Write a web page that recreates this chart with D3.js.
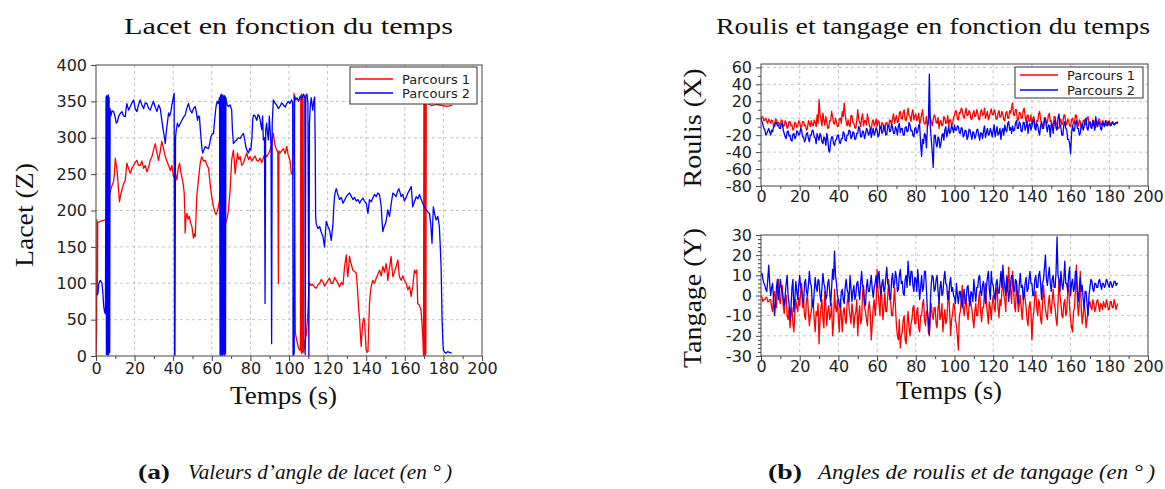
<!DOCTYPE html>
<html><head><meta charset="utf-8">
<script src="https://cdn.jsdelivr.net/npm/d3@7"></script>
<style>body{margin:0;background:#fff} svg{display:block}</style>
</head><body><svg id="c" width="1165" height="489"></svg>
<script>
// ---------------- DATA ----------------
const seriesNames = ["Parcours 1", "Parcours 2"];
const xTicks = [0,20,40,60,80,100,120,140,160,180,200];
const yawTicks = [0,50,100,150,200,250,300,350,400];
const rollTicks = [-80,-60,-40,-20,0,20,40,60];
const pitchTicks = [-30,-20,-10,0,10,20,30];

// Yaw (lacet), [time s, angle deg]
const yawParcours1 = [[0,0],[0.3,36],[0.5,187],[0.7,84],[0.9,183],[2,185],[3.5,186],[5,187],[6,200],[7,222],[7.4,226],[8,232],[9.1,240],[9.6,252],[10,272],[10.5,262],[10.9,256],[11.5,235],[12.2,212],[12.8,222],[13.4,228],[14.2,236],[15.2,242],[15.6,255],[16,265],[16.8,258],[17.8,251],[18.6,258],[19.5,262],[20.3,266],[21.2,269],[22,262],[22.9,262],[23.8,268],[24.7,258],[25.5,262],[26.4,253],[27.3,260],[28.1,269],[29,274],[29.8,283],[30.7,292],[31.5,280],[32.4,269],[33.2,280],[34.1,295],[35,285],[35.9,274],[36.7,268],[37.6,262],[38.5,255],[39.3,262],[40.2,246],[41,252],[41.9,242],[42.6,258],[43.3,265],[44,252],[44.5,246],[45.1,238],[45.7,224],[46,200],[46.2,169],[46.6,190],[47.1,196],[47.7,188],[48.4,192],[49,183],[49.7,178],[50.1,170],[50.5,162],[51,168],[51.4,164],[51.8,190],[52.2,219],[52.7,232],[53.1,242],[53.6,255],[54,265],[54.4,270],[54.8,274],[55.7,268],[56.6,269],[57.5,262],[58.3,258],[59,240],[59.5,228],[60.2,215],[60.9,205],[61.6,198],[62.2,194],[62.8,198],[63.4,205],[63.9,212],[64.3,219],[65,215],[66,190],[66.9,178],[67.4,184],[67.8,187],[68.6,200],[69.5,228],[69.9,250],[70.3,269],[70.7,276],[71.2,283],[71.6,270],[72.1,251],[72.7,265],[73.3,279],[74,270],[74.7,274],[75.5,262],[76.4,265],[77.2,272],[78.1,279],[79,270],[79.8,274],[80.7,268],[81.6,272],[82.4,275],[83.3,269],[84.2,268],[85,272],[85.9,266],[86.7,272],[87.5,278],[88.4,274],[89.3,278],[90.2,283],[91,292],[91.9,306],[92.7,290],[93.6,283],[94.2,280],[94.5,100],[94.8,282],[95.3,279],[96.2,282],[97.1,285],[98,278],[98.8,288],[99.6,276],[100.5,269],[101.2,251],[101.9,249],[102.3,300],[102.6,361],[103,200],[103.3,31],[104,22],[104.8,12],[105.5,8],[105.9,10],[106.1,358],[106.3,5],[106.5,360],[106.7,3],[106.9,358],[107.1,6],[107.3,359],[107.6,5],[108.3,20],[109,30],[109.8,60],[110.3,95],[110.7,100],[111.5,97],[112.4,98],[113.2,95],[114.1,93],[115,98],[115.9,100],[116.7,105],[117.6,102],[118.4,96],[119.3,100],[120.2,104],[121,107],[121.9,100],[122.8,100],[123.6,108],[124.5,104],[125.4,100],[126.2,95],[127.1,101],[128,98],[128.8,123],[129.7,139],[130.1,120],[130.5,109],[131,125],[131.4,137],[131.8,130],[132.2,127],[132.7,122],[133.1,118],[134,116],[134.8,114],[135.3,100],[135.7,82],[136.2,62],[136.6,49],[137,30],[137.4,13],[137.9,35],[138.3,47],[138.7,52],[139.1,49],[139.6,25],[140,8],[140.5,5],[140.9,6],[141.3,40],[141.7,72],[142.2,88],[142.6,95],[143,100],[143.4,104],[144.3,100],[145.2,107],[146,112],[146.9,118],[147.8,110],[148.6,123],[149.5,115],[150.3,127],[150.8,118],[151.2,104],[152,120],[152.9,137],[153.4,120],[153.8,109],[154.7,116],[155.5,123],[156,128],[156.4,132],[156.8,120],[157.2,109],[158.1,104],[159,110],[159.8,104],[160.7,100],[161.6,91],[162.4,96],[163.3,82],[163.7,90],[164.1,95],[164.6,108],[165,118],[165.6,114],[166.2,118],[166.7,72],[167.5,70],[168.4,63],[168.9,45],[169.3,27],[169.7,0],[169.9,355],[170.1,2],[170.3,358],[170.5,1],[170.7,356],[170.9,3],[171.1,357],[171.4,348],[172.5,346],[174,344],[175,345],[176,346],[178,345],[180,344],[182,343],[183.5,344],[184.6,345]];

const yawParcours2 = [[0.3,84],[1,86],[1.5,100],[2.2,104],[3.1,100],[3.6,85],[4,68],[4.5,60],[4.9,58],[5.2,356],[5.4,2],[5.6,358],[5.8,3],[6,357],[6.2,1],[6.4,359],[6.6,2],[6.8,355],[7.1,5],[7.3,340],[7.7,330],[8.3,337],[9.1,336],[9.8,330],[10.5,320],[11.1,322],[11.7,329],[12.5,333],[13.4,336],[14.3,330],[15.2,329],[15.6,340],[16,347],[16.9,338],[17.8,343],[18.6,348],[19.5,352],[20.3,340],[21.2,336],[22,345],[22.9,352],[23.8,345],[24.7,340],[25.5,348],[26.4,347],[27.3,340],[28.1,338],[29,345],[29.8,350],[30.7,342],[31.6,336],[32.5,345],[33.3,340],[34.1,324],[34.6,315],[35,308],[35.5,300],[35.9,292],[36.3,305],[36.7,315],[37.2,325],[37.6,334],[38.2,330],[38.8,336],[39.3,345],[39.8,352],[40.5,361],[40.7,3],[40.9,1],[41.2,300],[41.6,311],[42.2,320],[42.8,315],[43.7,320],[44.5,324],[45.3,328],[46.2,331],[47,340],[47.9,347],[48.8,338],[49.7,334],[50.5,340],[51.4,343],[52,335],[52.6,324],[53.1,330],[53.6,329],[54.1,310],[54.5,297],[54.9,285],[55.3,279],[56,284],[56.6,288],[57.5,286],[58.3,285],[58.9,292],[59.5,301],[60.2,305],[60.9,306],[61.5,325],[62.2,343],[62.8,350],[63.4,347],[64,355],[64.3,2],[64.5,358],[64.7,1],[64.9,360],[65.1,3],[65.3,357],[65.5,0],[65.7,359],[65.9,2],[66.1,356],[66.3,4],[66.5,358],[66.7,1],[66.9,357],[67.1,3],[67.3,355],[67.6,350],[68,345],[68.6,343],[69.5,345],[70.3,338],[70.7,310],[71.2,292],[72,295],[72.9,297],[73.8,300],[74.7,299],[75.5,303],[76.4,306],[77,298],[77.6,288],[78.3,282],[79,279],[79.6,285],[80.2,283],[80.8,300],[81.2,325],[81.6,331],[82.4,330],[83.3,324],[84,332],[84.7,329],[85.3,320],[85.9,311],[86.3,330],[86.7,297],[87.3,300],[87.6,72],[87.9,310],[88.4,320],[88.9,305],[89.3,297],[89.8,330],[90.2,311],[90.7,290],[91,17],[91.3,320],[91.9,352],[92.7,348],[93.6,345],[94.5,340],[95.3,343],[96.2,348],[97.1,345],[98,342],[98.8,347],[99.6,350],[100.5,347],[101.3,352],[101.9,348],[102.1,1],[102.7,3],[102.9,358],[103.5,352],[104.2,355],[105,350],[105.8,357],[106.5,354],[107.2,358],[107.6,360],[108.2,355],[108.4,2],[108.7,358],[109.3,360],[109.8,348],[110.3,0],[110.6,320],[111,342],[111.5,355],[112.3,338],[112.8,350],[113.3,356],[113.6,280],[113.8,192],[114.1,182],[115,175],[115.9,178],[116.7,170],[117.6,164],[118.4,150],[118.9,170],[119.3,185],[120.2,178],[121,173],[121.9,159],[122.3,170],[122.8,182],[123.2,205],[123.6,219],[124,226],[124.5,230],[125.3,222],[126.2,215],[127.1,218],[128,210],[128.8,214],[129.7,219],[130.5,222],[131.4,224],[132.2,220],[133.1,215],[134,218],[134.8,213],[135.7,215],[136.6,210],[137.4,214],[138.3,217],[139.1,213],[140,210],[140.9,196],[141.3,205],[141.7,215],[142.6,212],[143.4,217],[144.3,222],[145.2,219],[146,224],[146.9,222],[147.8,205],[148.2,185],[148.6,171],[149.3,178],[150,182],[150.6,190],[151.2,201],[151.6,196],[152.1,192],[153,210],[153.8,224],[154.6,222],[155.5,219],[156.2,226],[156.9,230],[157.5,225],[158.1,219],[159,222],[159.8,213],[160.7,218],[161.6,224],[162.4,228],[163.3,233],[163.7,220],[164.1,205],[165,212],[165.9,219],[166.8,216],[167.6,222],[168.5,215],[169.3,210],[170.2,205],[171,201],[171.9,198],[172.8,196],[173.5,180],[174.1,155],[174.5,185],[174.8,205],[175.5,195],[176.2,187],[177.1,192],[177.5,185],[177.9,178],[178.4,150],[178.8,123],[179.3,54],[179.7,20],[180,8],[180.7,5],[181.4,4],[182.2,6],[183.1,5],[184.3,4]];

// Roll / pitch read every half second, t = 0 .. 184.5 s
const sampleStep = 0.5;
const rollParcours1 = [
0,2,1,-3,-2,0,-4,-6,-1,-3, -6,-2,-3,-9,-8,-1,-2,-6,-5,-8,
-7,-2,-3,-10,-9,-3,-5,-12,-10,-4, -4,-9,-8,-14,-12,-5,-6,-11,-9,-3,
-5,-11,-10,-4,-4,-9,-8,-14,-12,-3, -6,-10,-3,-8,-9,-2,-5,-10,4,-6,
22,5,-2,-9,6,-3,-8,2,-4,-12, -11,-3,-3,8,2,-6,-7,0,-5,-10,
-9,-1,0,-6,8,2,18,5,-4,-9, -2,-8,-10,3,3,-5,-6,-11,-12,-2,
10,-1,-5,-10,0,5,-9,-3,-3,-8, 5,-2,-8,-12,-14,-4,-2,-9,-6,-1,
-10,-3,-4,-12,-12,-5,-7,-13,-15,-6, -5,-10,-9,-2,-3,-8,0,5,-6,-1,
3,-5,-4,6,8,0,-1,7,10,-2, -3,4,12,3,2,-4,6,10,-2,3,
5,-3,0,6,-8,-2,4,10,-3,-7, -6,2,-10,-4,8,0,-4,-9,-1,4,
2,-5,-6,1,-12,-4,-3,-9,-8,2, 0,-6,-5,3,-10,-2,-2,-8,-7,1,
3,9,8,-1,-2,7,6,12,10,2, 0,6,12,3,4,9,7,-1,-1,5,
9,2,3,10,6,-1,-2,8,10,3, 5,12,0,4,8,-2,2,7,11,4,
4,10,7,-1,-1,6,9,1,2,8, 5,-2,-3,6,8,0,0,9,6,12,
18,4,3,10,10,-3,-2,7,6,0, 0,9,12,2,-5,3,4,-4,-3,4,
-8,0,2,-6,-12,-3,-4,5,8,-2, -6,-12,-10,1,0,-7,-5,3,6,-4,
-3,-9,-9,2,2,-6,-7,-12,-12,-3, -1,-8,-6,3,4,-5,-8,-1,-3,-9,
-10,-2,0,-7,-6,4,3,-5,-9,-2, -4,-11,-12,-3,-2,-8,-7,0,2,-6,
-5,-10,-9,-2,-3,-8,-11,-4,-6,-1, -2,-7,-8,-3,-4,-9,-7,-3,-5,-8,
-3,-7,-8,-4,-5,-7,-6,-5,-5,-4];
const rollParcours2 = [
0,-4,-8,-12,-14,-20,-18,-15,-12,-16, -20,-14,-16,-10,-10,-5,-5,-9,-8,-12,
-12,-7,-6,-14,-18,-22,-24,-16,-15,-21, -20,-26,-27,-19,-18,-24,-22,-15,-16,-20,
-19,-12,-14,-22,-22,-28,-25,-18,-17,-24, -28,-20,-20,-14,-15,-22,-23,-30,-18,-22,
-26,-18,-21,-28,-30,-22,-24,-32,-18,-25, -38,-40,-28,-22,-22,-30,-32,-26,-25,-20,
-20,-28,-30,-24,-24,-16,-18,-26,-27,-20, -20,-14,-15,-24,-22,-16,-17,-25,-24,-18,
-18,-10,-12,-22,-22,-15,-16,-24,-20,-12, -14,-20,-18,-12,-23,-17,-12,-20,-17,-11,
-14,-22,-20,-10,-10,-18,-16,-8,-12,-20, -19,-10,-8,-16,-15,-7,-11,-18,-18,-10,
-13,-20,-9,-6,-17,-12,-12,-20,-20,-11, -10,-16,-15,-5,-8,-15,-14,-20,-22,-12,
-11,-18,-16,-8,-9,-30,-45,-25,-30,-18, -20,-35,-10,-5,52,-10,-25,-40,-58,-20,
-20,-30,-34,-22,-24,-35,-30,-20,-18,-26, -14,-10,-22,-16,-10,-18,-16,-8,-12,-17,
-8,-14,-14,-9,-10,-17,-18,-11,-12,-22, -20,-14,-15,-25,-22,-13,-14,-20,-25,-16,
-17,-24,-21,-14,-13,-20,-26,-17,-18,-24, -15,-9,-23,-17,-12,-20,-19,-12,-16,-22,
-14,-8,-22,-16,-10,-20,-18,-12,-25,-15, -12,-20,-8,-14,-16,-6,-4,-14,-11,-18,
-9,-15,-14,-6,-3,-12,-12,-4,-7,-16, -15,-5,-5,-14,-10,-3,-18,-8,-6,-14,
-10,-3,-2,-12,-14,-6,-8,-16,-20,-9, -4,-12,-12,-2,0,-10,-16,-8,-9,-22,
-6,-10,-18,-6,-2,-12,-14,0,5,-8, -11,-20,-20,-8,-4,-12,-13,-25,-25,-30,
-42,-18,-8,-15,-15,-5,-3,-12,-12,-20, -18,-8,-6,-14,-10,-2,0,-12,-14,-6,
-4,-11,-12,-3,-8,-14,2,-7,-10,-4, -6,-12,-14,-5,-7,-10,-3,-8,-9,-4,
-5,-9,-8,-5,-6,-8,-7,-5,-6,-5];
const pitchParcours1 = [
0,-1,-3,-2,-2,-1,-1,-3,-3,-2, -2,-6,-8,0,2,-4,-6,4,8,-2,
-4,2,5,-5,-9,-2,0,-10,-12,-6, -16,-10,-6,-14,-18,-8,-2,-6,-8,-1,
-5,2,6,-6,-3,-10,-12,-2,0,-8, -15,-10,-8,-2,-4,-12,-18,-8,-10,-4,
-24,-12,-6,-2,-12,-16,2,-5,-15,-8, -5,-12,-10,-4,-20,-14,3,-6,-8,-2,
-12,-18,-2,-10,-18,-8,-6,-12,-14,-4, 0,-6,-10,-14,-4,-8,-16,-10,-8,-2,
-20,-10,-5,-14,-12,2,5,-6,-8,-12, -15,-6,-3,-10,-22,-14,-6,-2,-10,-4,
13,2,-4,-10,5,-2,-12,-6,2,-8, -8,0,8,-2,-3,-10,-10,-4,4,-6,
-15,-20,-22,-12,-26,-20,-18,-12,-10,-22, -24,-14,-8,-16,-20,-14,-12,-6,-5,-14,
-14,-8,-6,-16,-18,-10,-10,-4,-2,-12, -15,-8,-8,-18,-20,-10,-4,-10,-12,-6,
-6,-14,-16,-6,-3,-12,-10,-4,-18,-12, -7,-14,-12,-4,2,-8,-20,-12,-9,-4,
-5,-12,-15,-20,-27,-10,-8,-2,5,-6, -10,-4,-2,-8,-12,-6,0,-4,-7,-12,
-16,-8,-4,-10,-10,-2,2,-8,-13,-6, -6,2,6,-4,-9,-14,-3,-6,-12,-4,
0,-6,-8,2,4,-6,-11,-2,-5,2, 8,0,-2,-8,10,2,14,4,3,-4,
12,4,-5,-8,6,0,-8,-4,0,-6, -12,-4,4,-2,-6,-12,-15,-6,-3,-8,
-22,-12,-8,0,2,-6,-10,-2,-4,-12, -14,-4,5,-2,-7,-10,-12,-4,0,-6,
-9,-2,3,-4,-6,-12,-15,-4,8,0, -4,-10,-11,-4,-2,-10,-8,2,5,-6,
-12,-16,-18,-8,-6,4,15,-2,-10,-4, 12,-6,-14,-10,-4,-8,-16,-12,-8,-4,
-3,-6,-7,-2,-4,-8,-6,-3,-2,-5, -8,-4,-5,-7,-3,-5,-6,-2,-4,-7,
-7,-3,-3,-6,-6,-2,-4,-7,-5,-4];
const pitchParcours2 = [
10,11,8,6,5,3,2,8,15,6, 0,4,6,-2,-10,-4,4,8,-2,2,
8,4,2,-2,-5,0,6,10,0,-4, -12,-6,4,8,-8,-2,7,2,-2,5,
10,4,3,-2,-4,6,8,2,0,5, 12,6,5,-4,-6,2,9,4,2,8,
7,0,-3,4,11,6,4,-2,0,6, 8,2,-5,4,13,8,22,10,6,0,
-2,-5,-6,2,3,-2,-4,4,8,3, 1,-3,10,4,-3,2,5,-2,0,6,
7,2,-2,6,12,5,3,-4,-5,4, 8,2,2,6,10,3,-1,4,6,10,
4,9,12,4,0,6,8,2,3,9, 14,6,5,0,-2,8,11,4,6,12,
9,2,3,10,13,6,7,1,0,8, 10,4,17,10,5,12,12,5,2,9,
8,2,13,6,-2,4,10,2,4,12, 12,3,-8,-12,-19,-4,6,10,9,2,
3,8,10,2,-4,4,7,0,1,8, 12,6,5,-2,-2,6,9,2,4,0,
-1,-4,6,0,-4,2,2,-3,-6,0, 3,-4,-2,4,5,-2,-5,2,1,-3,
8,2,-3,4,4,9,10,2,0,5, 7,0,-4,4,9,12,3,-2,12,6,
5,0,-2,6,8,2,1,6,12,4, 15,8,4,0,9,4,-3,2,6,10,
10,4,2,8,7,0,-4,6,11,4, 5,-2,0,6,9,2,3,8,12,6,
6,0,0,8,10,4,4,10,12,6, -2,6,8,14,20,8,5,10,14,6,
2,8,10,4,4,12,29,10,8,2, 12,6,3,8,17,6,6,2,10,14,
0,6,8,2,4,12,12,2,-3,4, 9,2,5,-2,-6,2,2,-4,-10,0,
4,8,7,3,2,6,6,4,4,7, 8,5,3,6,6,4,5,8,7,5,
4,7,6,4,5,7,7,5,6,6];

const colors = ["#ff0000", "#0000ff"];

// ---------------- DRAWING ----------------
const svg = d3.select("#c");
const SANS = "'DejaVu Sans', sans-serif";
const SERIF = "'Liberation Serif', 'DejaVu Serif', serif";
let clipId = 0;

function panel(cfg) {
  const x = d3.scaleLinear().domain([0, 200]).range([cfg.left, cfg.right]);
  const y = d3.scaleLinear().domain(cfg.yDomain).range([cfg.bottom, cfg.top]);
  const g = svg.append("g");
  g.selectAll(null).data(xTicks.filter(d => d > 0 && d < 200)).join("line")
    .attr("x1", d => x(d)).attr("x2", d => x(d)).attr("y1", cfg.top).attr("y2", cfg.bottom)
    .attr("stroke", "#b5b5b5").attr("stroke-width", 0.8).attr("stroke-dasharray", "3,3");
  g.selectAll(null).data(cfg.yTicks.filter(d => y(d) > cfg.top + 1 && y(d) < cfg.bottom - 1)).join("line")
    .attr("y1", d => y(d)).attr("y2", d => y(d)).attr("x1", cfg.left).attr("x2", cfg.right)
    .attr("stroke", "#b5b5b5").attr("stroke-width", 0.8).attr("stroke-dasharray", "3,3");
  const id = "clip" + (clipId++);
  svg.append("defs").append("clipPath").attr("id", id).append("rect")
    .attr("x", cfg.left).attr("y", cfg.top).attr("width", cfg.right - cfg.left).attr("height", cfg.bottom - cfg.top);
  const line = d3.line().x(d => x(d[0])).y(d => y(d[1]));
  cfg.series.forEach((s, i) => {
    g.append("path").datum(s).attr("clip-path", `url(#${id})`)
      .attr("d", line).attr("fill", "none").attr("stroke", colors[i])
      .attr("stroke-width", 1.3).attr("stroke-linejoin", "round");
  });
  g.append("rect").attr("x", cfg.left).attr("y", cfg.top)
    .attr("width", cfg.right - cfg.left).attr("height", cfg.bottom - cfg.top)
    .attr("fill", "none").attr("stroke", "#444").attr("stroke-width", 1);
  const ax = g.append("g").attr("transform", `translate(0,${cfg.bottom})`)
    .call(d3.axisBottom(x).tickValues(xTicks).tickSize(5).tickPadding(cfg.xPad).tickFormat(d => String(d)));
  const axm = g.append("g").attr("transform", `translate(0,${cfg.bottom})`)
    .call(d3.axisBottom(x).tickValues(d3.range(10, 200, 20)).tickSize(3).tickFormat(""));
  const ay = g.append("g").attr("transform", `translate(${cfg.left},0)`)
    .call(d3.axisLeft(y).tickValues(cfg.yTicks).tickSize(5).tickPadding(4).tickFormat(d => String(d)));
  const aym = g.append("g").attr("transform", `translate(${cfg.left},0)`)
    .call(d3.axisLeft(y).tickValues(cfg.yMinor).tickSize(3).tickFormat(""));
  [ax, axm, ay, aym].forEach(a => {
    a.select(".domain").remove();
    a.selectAll("line").attr("stroke", "#444");
    a.selectAll("text").attr("font-family", SANS).attr("font-size", 16).attr("fill", "#222");
  });
  const L = cfg.legend;
  if (L) {
    const lg = g.append("g");
    lg.append("rect").attr("x", L.x).attr("y", L.y).attr("width", L.w).attr("height", L.h)
      .attr("fill", "#fff").attr("stroke", "#333").attr("stroke-width", 1);
    seriesNames.forEach((n, i) => {
      const yy = L.y + L.row0 + i * L.dy;
      lg.append("line").attr("x1", L.x + 5).attr("x2", L.x + 43).attr("y1", yy).attr("y2", yy)
        .attr("stroke", colors[i]).attr("stroke-width", 1.3);
      lg.append("text").attr("x", L.x + 52).attr("y", yy).attr("dy", "0.36em")
        .attr("font-family", SANS).attr("font-size", 13).attr("fill", "#222").text(n);
    });
  }
  return { x, y };
}

function pairs(values) {
  return values.map((v, i) => [i * sampleStep, v]);
}

panel({
  left: 96, right: 482, top: 65, bottom: 356,
  yDomain: [0, 400], yTicks: yawTicks, yMinor: [], xPad: 2,
  series: [yawParcours1, yawParcours2],
  legend: { x: 350, y: 67, w: 127, h: 37, row0: 12, dy: 14 }
});
panel({
  left: 761, right: 1148, top: 64, bottom: 186,
  yDomain: [-80, 64], yTicks: rollTicks, yMinor: d3.range(-70, 64, 20), xPad: 0,
  series: [pairs(rollParcours1), pairs(rollParcours2)],
  legend: { x: 1015, y: 67, w: 128, h: 31, row0: 8, dy: 15 }
});
panel({
  left: 761, right: 1148, top: 235, bottom: 356,
  yDomain: [-30, 30], yTicks: pitchTicks, yMinor: d3.range(-28, 30, 2).filter(d => d % 10 !== 0), xPad: 0,
  series: [pairs(pitchParcours1), pairs(pitchParcours2)],
  legend: null
});

function txt(s, x, y, size, len, opts = {}) {
  const t = svg.append("text").attr("x", x).attr("y", y).attr("font-family", SERIF)
    .attr("font-size", size).attr("fill", "#111").attr("text-anchor", opts.anchor || "middle")
    .attr("textLength", len).attr("lengthAdjust", "spacingAndGlyphs").text(s);
  if (opts.weight) t.attr("font-weight", opts.weight);
  if (opts.style) t.attr("font-style", opts.style);
  return t;
}
function vtxt(s, cx, cy, size, len) {
  svg.append("text").attr("transform", `translate(${cx},${cy}) rotate(-90)`)
    .attr("font-family", SERIF).attr("font-size", size).attr("fill", "#111")
    .attr("text-anchor", "middle").attr("dy", "0.35em")
    .attr("textLength", len).attr("lengthAdjust", "spacingAndGlyphs").text(s);
}

txt("Lacet en fonction du temps", 288.5, 34, 23, 329);
txt("Roulis et tangage en fonction du temps", 933, 34, 23, 434);
vtxt("Lacet (Z)", 24, 215, 26, 104);
vtxt("Roulis (X)", 692, 128, 26, 119);
vtxt("Tangage (Y)", 692, 298, 26, 140);
txt("Temps (s)", 283.5, 404, 26, 107);
txt("Temps (s)", 949, 399, 26, 106);
txt("(a)", 138, 479, 20, 32, { anchor: "start", weight: "bold" });
txt("Valeurs d’angle de lacet (en °\u2009)", 188, 479, 20, 264, { anchor: "start", style: "italic" });
txt("(b)", 768, 479, 20, 34, { anchor: "start", weight: "bold" });
txt("Angles de roulis et de tangage (en °\u2009)", 818, 479, 20, 337, { anchor: "start", style: "italic" });
</script>
</body></html>
